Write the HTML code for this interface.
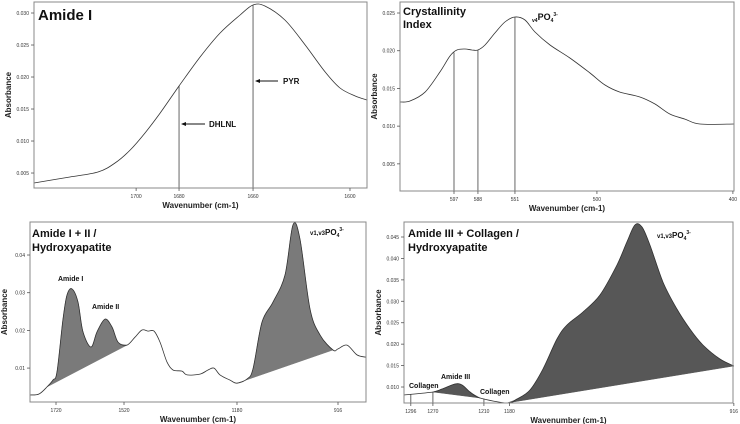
<!DOCTYPE html>
<html><head><meta charset="utf-8">
<style>
html,body{margin:0;padding:0;background:#fff;}
svg{display:block;font-family:"Liberation Sans",Arial,sans-serif;}
</style></head>
<body>
<svg id="fig" width="740" height="424" viewBox="0 0 740 424" xmlns="http://www.w3.org/2000/svg"></svg>
<script>
// ---------- Panel 1: Amide I ----------
const p1Wave = [1719.2,1709.5,1701.9,1697.3,1693.2,1689.2,1685.1,1680,1674.3,1668.9,1663.5,1660,1656.8,1651.4,1645.9,1640.5,1636.5,1632.4,1629.2];
const p1Abs  = [0.00344,0.00438,0.00516,0.00656,0.00859,0.01125,0.01438,0.01859,0.02313,0.02688,0.02969,0.03125,0.03109,0.02891,0.0250,0.02078,0.01828,0.01703,0.01641];
const p1XTickVals = [1691.6,1680,1660,1633.8];
const p1XTickLabels = ["1700","1680","1660","1600"];
const p1YTicks = [0.005,0.010,0.015,0.020,0.025,0.030];
const p1YTickLabels = ["0.005","0.010","0.015","0.020","0.025","0.030"];
const p1Markers = [1680,1660];

// ---------- Panel 2: Crystallinity Index ----------
const p2Wave = [640,632.8,622,611.3,604.1,599.1,593.3,588.3,584,578.9,571.8,564.6,557.4,550.2,543,532.2,517.9,503.5,492.7,482,467.6,456.8,446.1,435.3,424.5,400];
const p2Abs  = [0.0132,0.01333,0.01452,0.01718,0.0193,0.0201,0.02023,0.0201,0.0201,0.02076,0.02235,0.02381,0.02447,0.02407,0.02248,0.02076,0.01903,0.01704,0.01545,0.01452,0.01386,0.01293,0.01161,0.01094,0.01028,0.01028];
const p2XTickVals = [601.2,584,557.4,498.5,400.8];
const p2XTickLabels = ["597","588","551","500","400"];
const p2YTicks = [0.005,0.010,0.015,0.020,0.025];
const p2YTickLabels = ["0.005","0.010","0.015","0.020","0.025"];
const p2Markers = [601.2,584,557.4];

// ---------- Panel 3: Amide I + II / Hydroxyapatite ----------
const p3Wave = [1800,1774.3,1751.4,1734.3,1722.9,1705.7,1694.3,1680,1662.9,1648.6,1625.7,1608.6,1585.7,1565.7,1548.6,1522.9,1500,1480,1462.9,1445.7,1428.6,1408.6,1391.4,1365.7,1351.4,1314.3,1291.4,1274.3,1257.1,1228.6,1208.6,1180,1162.9,1137.1,1105.7,1071.4,1048.6,1028.6,1000,971.4,934.3,920,894.3,865.7,840];
const p3Abs  = [0.00286,0.00312,0.0050,0.00684,0.0090,0.0230,0.0294,0.0310,0.0275,0.0196,0.0156,0.0196,0.0230,0.0209,0.0169,0.0161,0.0182,0.0201,0.0198,0.0198,0.0169,0.0116,0.0095,0.0092,0.0082,0.0084,0.0095,0.0100,0.0082,0.0068,0.0060,0.0071,0.0098,0.0222,0.0275,0.0347,0.0480,0.0442,0.0257,0.0188,0.0148,0.0151,0.0161,0.0135,0.0129];
const p3XTickVals = [1725.7,1531.4,1208.6,920];
const p3XTickLabels = ["1720","1520","1180","916"];
const p3YTicks = [0.01,0.02,0.03,0.04];
const p3YTickLabels = ["0.01","0.02","0.03","0.04"];
const p3Bands = [[1751.4,1522.9],[1208.6,934.3]];

// ---------- Panel 4: Amide III + Collagen / Hydroxyapatite ----------
const p4Wave = [1304,1269.9,1259.3,1244,1235.8,1226.4,1214.6,1182.9,1171.1,1155.8,1140.5,1124,1112.3,1093.5,1073.5,1053.5,1041.8,1032.4,1024.1,1014.7,999.4,983,967.7,952.4,932.4,915.9];
const p4Abs  = [0.00814,0.00884,0.00954,0.0107,0.01047,0.00884,0.00744,0.00627,0.0072,0.0093,0.0142,0.0212,0.02447,0.0275,0.03147,0.03847,0.04383,0.0478,0.04733,0.04313,0.0345,0.0282,0.02353,0.0198,0.01653,0.0149];
const p4XTickVals = [1296,1270,1210,1180,916];
const p4XTickLabels = ["1296","1270","1210","1180","916"];
const p4YTicks = [0.010,0.015,0.020,0.025,0.030,0.035,0.040,0.045];
const p4YTickLabels = ["0.010","0.015","0.020","0.025","0.030","0.035","0.040","0.045"];
const p4Bands = [[1269.9,1214.6],[1182.9,915.9]];
const p4Markers = [1296,1270,1210];

const NS = "http://www.w3.org/2000/svg";
const svg = document.getElementById("fig");
function el(tag, attrs, parent){
  const e = document.createElementNS(NS, tag);
  for (const k in attrs) e.setAttribute(k, attrs[k]);
  (parent||svg).appendChild(e);
  return e;
}
function scale(d0,d1,r0,r1){ return v => r0 + (v-d0)/(d1-d0)*(r1-r0); }
function interp(xs, ys, w){
  for (let i=0;i<xs.length-1;i++){
    const a=xs[i], b=xs[i+1];
    if ((w<=a && w>=b) || (w>=a && w<=b)){
      const t = (w-a)/(b-a||1); return ys[i]+t*(ys[i+1]-ys[i]);
    }
  }
  return ys[ys.length-1];
}
function smooth(pts){
  let d = "M" + pts[0][0].toFixed(1) + "," + pts[0][1].toFixed(1);
  for (let i=0;i<pts.length-1;i++){
    const p0 = pts[Math.max(0,i-1)], p1 = pts[i], p2 = pts[i+1], p3 = pts[Math.min(pts.length-1,i+2)];
    const c1x = p1[0] + (p2[0]-p0[0])/6, c1y = p1[1] + (p2[1]-p0[1])/6;
    const c2x = p2[0] - (p3[0]-p1[0])/6, c2y = p2[1] - (p3[1]-p1[1])/6;
    d += " C" + c1x.toFixed(1) + "," + c1y.toFixed(1) + " " + c2x.toFixed(1) + "," + c2y.toFixed(1) + " " + p2[0].toFixed(1) + "," + p2[1].toFixed(1);
  }
  return d;
}

function panel(cfg){
  const g = el("g", {});
  
  
  const X = scale(cfg.xd[0], cfg.xd[1], cfg.box[0], cfg.box[2]);
  const Y = scale(cfg.yd[0], cfg.yd[1], cfg.box[3], cfg.box[1]);
  const [L,T,R,B] = cfg.box;
  if (cfg.bands){
    cfg.bands.forEach((bd, bi) => {
      let pts = [];
      for (let i=0;i<cfg.wave.length;i++){
        const w = cfg.wave[i];
        if (w<bd[0] && w>bd[1]) pts.push([X(w), Y(cfg.abs[i])]);
      }
      pts.unshift([X(bd[0]), Y(interp(cfg.wave,cfg.abs,bd[0]))]);
      pts.push([X(bd[1]), Y(interp(cfg.wave,cfg.abs,bd[1]))]);
      const p = el("path", {d: smooth(pts) + " Z", fill: cfg.fill, stroke: cfg.fill, "stroke-width": 0.5}, g);
      
      
    });
  }
  if (cfg.markers){
    cfg.markers.forEach((m, mi) => {
      const l = el("line", {x1: X(m), x2: X(m), y1: Y(interp(cfg.wave,cfg.abs,m)), y2: B, stroke: "#555", "stroke-width": 0.9}, g);
      
      
    });
  }
  const pts = cfg.wave.map((w,i)=>[X(w), Y(cfg.abs[i])]);
  const c = el("path", {d: smooth(pts), fill: "none", stroke: "#333", "stroke-width": 0.8}, g);
  
  
  const f = el("rect", {x: L, y: T, width: R-L, height: B-T, fill: "none", stroke: "#888", "stroke-width": 1}, g);
  
  
  cfg.xt.forEach((v,i) => {
    const x = X(v);
    el("line", {x1:x, x2:x, y1:B, y2:B+3, stroke:"#555", "stroke-width":0.8}, g);
    const t = el("text", {x:x, y:B+10, "font-size":5, "text-anchor":"middle", fill:"#333"}, g);
    t.textContent = cfg.xl[i];
    
    
  });
  cfg.yt.forEach((v,i) => {
    const y = Y(v);
    el("line", {x1:L-3, x2:L, y1:y, y2:y, stroke:"#555", "stroke-width":0.8}, g);
    const t = el("text", {x:L-5, y:y+2, "font-size":5, "text-anchor":"end", fill:"#333"}, g);
    t.textContent = cfg.yl[i];
    
    
  });
  const xa = el("text", {x:(L+R)/2, y:B+20, "font-size":8, "font-weight":"bold", "text-anchor":"middle", fill:"#222"}, g);
  xa.textContent = "Wavenumber (cm-1)";
  
  
  const ya = el("text", {x:0, y:0, "font-size":8, "font-weight":"bold", "text-anchor":"middle", fill:"#222", transform:"translate(" + (L-23) + "," + ((T+B)/2) + ") rotate(-90)"}, g);
  ya.textContent = "Absorbance";
  
  
  return g;
}

panel({name:"amide-i-panel", box:[34,2,367,188], xd:[1719.2,1629.2], yd:[0.00266,0.03172], wave:p1Wave, abs:p1Abs, xt:p1XTickVals, xl:p1XTickLabels, yt:p1YTicks, yl:p1YTickLabels, markers:p1Markers});
panel({name:"crystallinity-panel", box:[400,2,734,191], xd:[640,400], yd:[0.0014,0.02646], wave:p2Wave, abs:p2Abs, xt:p2XTickVals, xl:p2XTickLabels, yt:p2YTicks, yl:p2YTickLabels, markers:p2Markers});
panel({name:"amide-hydroxyapatite-panel", box:[30,222,366,402], xd:[1800,840], yd:[0.001,0.04876], wave:p3Wave, abs:p3Abs, xt:p3XTickVals, xl:p3XTickLabels, yt:p3YTicks, yl:p3YTickLabels, bands:p3Bands, fill:"#7a7a7a"});
panel({name:"amide-iii-collagen-panel", box:[404,222,733,403], xd:[1304,917], yd:[0.00627,0.0485], wave:p4Wave, abs:p4Abs, xt:p4XTickVals, xl:p4XTickLabels, yt:p4YTicks, yl:p4YTickLabels, bands:p4Bands, fill:"#575757", markers:p4Markers});
</script>
<div style="position:absolute;left:0;top:0;width:740px;height:424px;pointer-events:none">
<svg width="740" height="424" style="font-family:'Liberation Sans',Arial,sans-serif">
  <text x="38" y="20" font-size="15" font-weight="bold" fill="#111">Amide I</text>
  <line x1="256" y1="81" x2="278" y2="81" stroke="#111" stroke-width="1"/>
  <polygon points="255,81 260,79 260,83" fill="#111"/>
  <text x="283" y="84" font-size="8" font-weight="bold" fill="#111">PYR</text>
  <line x1="182" y1="124" x2="205" y2="124" stroke="#111" stroke-width="1"/>
  <polygon points="181,124 186,122 186,126" fill="#111"/>
  <text x="209" y="127" font-size="8" font-weight="bold" fill="#111">DHLNL</text>

  <text x="403" y="15" font-size="11" font-weight="bold" fill="#111">Crystallinity</text>
  <text x="403" y="28" font-size="11" font-weight="bold" fill="#111">Index</text>
  <text x="532" y="20" font-size="9" font-weight="bold" fill="#111"><tspan font-size="5" dy="2">v4</tspan><tspan dy="-2">PO</tspan><tspan font-size="5" dy="2">4</tspan><tspan font-size="5" dy="-6">3-</tspan></text>

  <text x="32" y="237" font-size="11" font-weight="bold" fill="#111">Amide I + II /</text>
  <text x="32" y="251" font-size="11" font-weight="bold" fill="#111">Hydroxyapatite</text>
  <text x="58" y="281" font-size="7" font-weight="bold" fill="#111">Amide I</text>
  <text x="92" y="309" font-size="7" font-weight="bold" fill="#111">Amide II</text>
  <text x="310" y="235" font-size="8" font-weight="bold" fill="#111"><tspan font-size="6">v1,v3</tspan>PO<tspan font-size="5" dy="2">4</tspan><tspan font-size="5" dy="-6">3-</tspan></text>

  <text x="408" y="237" font-size="11" font-weight="bold" fill="#111">Amide III + Collagen /</text>
  <text x="408" y="251" font-size="11" font-weight="bold" fill="#111">Hydroxyapatite</text>
  <text x="409" y="388" font-size="7" font-weight="bold" fill="#111">Collagen</text>
  <text x="441" y="379" font-size="7" font-weight="bold" fill="#111">Amide III</text>
  <text x="480" y="394" font-size="7" font-weight="bold" fill="#111">Collagen</text>
  <text x="657" y="238" font-size="8" font-weight="bold" fill="#111"><tspan font-size="6">v1,v3</tspan>PO<tspan font-size="5" dy="2">4</tspan><tspan font-size="5" dy="-6">3-</tspan></text>
</svg>
</div>
</body></html>
